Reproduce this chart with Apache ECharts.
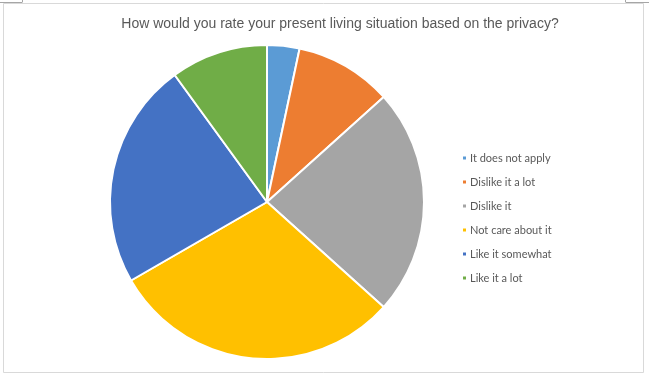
<!DOCTYPE html>
<html><head><meta charset="utf-8">
<script src="https://cdn.jsdelivr.net/npm/echarts@6/dist/echarts.min.js"></script>
<style>html,body{margin:0;padding:0;background:#fff;}#c{width:649px;height:379px;}</style>
</head><body><div id="c"></div>
<script>
const titleText = 'How would you rate your present living situation based on the privacy?';
const categories = ['It does not apply','Dislike it a lot','Dislike it','Not care about it','Like it somewhat','Like it a lot'];
const values = [1, 3, 7, 9, 7, 3];
const colors = ['#5B9BD5','#ED7D31','#A5A5A5','#FFC000','#4472C4','#70AD47'];

const chart = echarts.init(document.getElementById('c'), null, {renderer:'canvas'});
chart.setOption({
  animation:false,
  backgroundColor:'#fff',
  color: colors,
  title:{text:titleText,left:335,textAlign:'center',top:12,
    textStyle:{fontFamily:'Liberation Sans',fontSize:14,fontWeight:'normal',color:'#595959'}},
  legend:{orient:'vertical',left:456,top:146,icon:'rect',itemWidth:5,itemHeight:5,itemGap:10,
    textStyle:{fontFamily:'Lato',fontSize:11,color:'#595959',lineHeight:14,padding:[0,0,0,-2]},
    data:categories},
  graphic:[
    {type:'rect',shape:{x:3.5,y:3.5,width:640,height:369},style:{fill:'none',stroke:'#d9d9d9',lineWidth:1}},
    {type:'line',shape:{x1:0,y1:2.5,x2:22,y2:2.5},style:{stroke:'#a6a6a6',lineWidth:1}},
    {type:'line',shape:{x1:22.5,y1:0,x2:22.5,y2:2.5},style:{stroke:'#a6a6a6',lineWidth:1}},
    {type:'line',shape:{x1:626,y1:2.5,x2:649,y2:2.5},style:{stroke:'#a6a6a6',lineWidth:1}},
    {type:'line',shape:{x1:625.5,y1:0,x2:625.5,y2:2.5},style:{stroke:'#a6a6a6',lineWidth:1}}
  ],
  series:[{type:'pie',center:[267,202],radius:157,startAngle:90,clockwise:true,
    label:{show:false},labelLine:{show:false},
    itemStyle:{borderColor:'#fff',borderWidth:2},
    emphasis:{disabled:true},
    data:categories.map((n,i)=>({name:n,value:values[i]}))}]
});
</script></body></html>
